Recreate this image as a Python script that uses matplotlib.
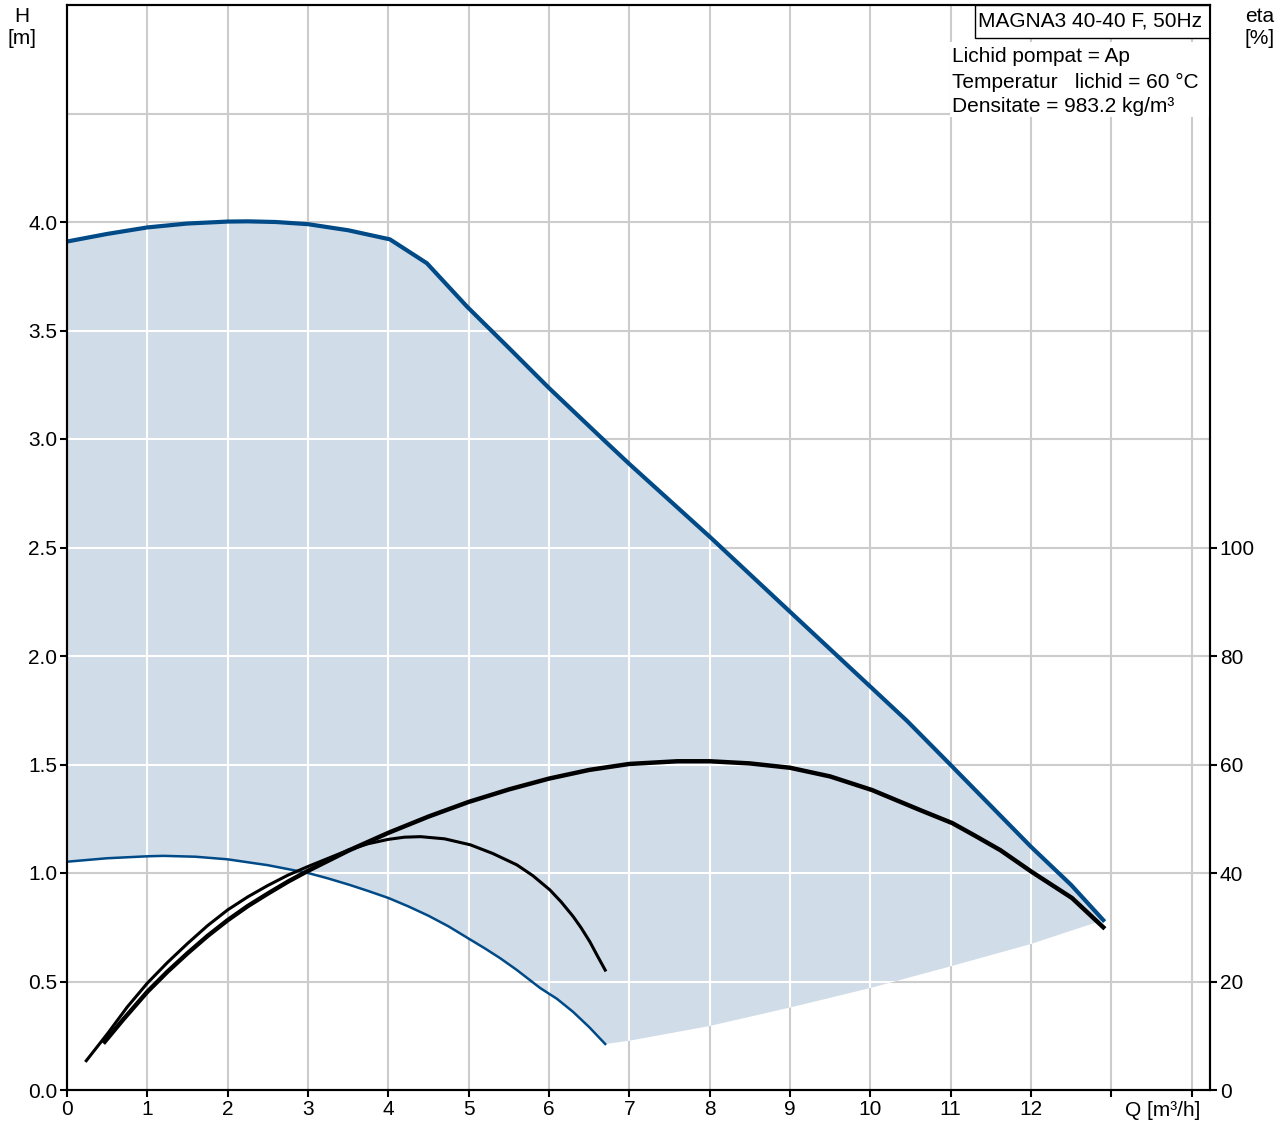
import numpy as np
import matplotlib
matplotlib.use('Agg')
from matplotlib import pyplot
from matplotlib.patches import Polygon, Rectangle

pyplot.rcParams['font.family'] = ['Liberation Sans', 'DejaVu Sans']

# max speed curve, H [m] vs Q [m3/h]
q_max = [0, 0.5, 1.0, 1.5, 2.0, 2.25, 2.6, 3.0, 3.5, 4.02, 4.48, 4.98, 5.5, 6.0, 6.64,
         7.0, 8.0, 9.0, 10.0, 10.46, 11.0, 12.0, 12.5, 12.9]
h_max = [3.91, 3.945, 3.975, 3.993, 4.002, 4.003, 4.0, 3.99, 3.962, 3.92, 3.81, 3.61, 3.42, 3.235, 3.01,
         2.885, 2.55, 2.204, 1.859, 1.70, 1.498, 1.121, 0.945, 0.783]

# min speed curve
q_min = [0, 0.5, 1.0, 1.2, 1.6, 2.0, 2.5, 3.0, 3.25, 3.52, 3.75, 4.0, 4.25, 4.5, 4.75, 4.99, 5.2,
         5.39, 5.6, 5.89, 6.1, 6.3, 6.5, 6.7]
h_min = [1.052, 1.068, 1.077, 1.079, 1.075, 1.063, 1.036, 1.0, 0.975, 0.945, 0.917, 0.885, 0.846, 0.803,
         0.754, 0.70, 0.653, 0.608, 0.553, 0.47, 0.42, 0.36, 0.29, 0.212]

# lower boundary of operating range
q_low = [6.7, 7.0, 8.0, 9.0, 10.0, 11.0, 12.0, 12.9]
h_low = [0.212, 0.227, 0.295, 0.38, 0.47, 0.57, 0.673, 0.783]

# efficiency at max speed [%]
q_eta_max = [0.47, 0.7, 1.0, 1.25, 1.5, 1.75, 2.0, 2.25, 2.5, 2.75, 3.0, 3.5, 4.0, 4.5, 5.0, 5.5, 6.0,
             6.5, 7.0, 7.6, 8.0, 8.5, 9.0, 9.5, 10.02, 10.62, 11.02, 11.3, 11.62, 12.01, 12.51, 12.9]
eta_max = [8.9, 13.0, 18.1, 21.8, 25.2, 28.4, 31.3, 33.9, 36.2, 38.4, 40.4, 44.1, 47.4, 50.4, 53.1, 55.4, 57.4,
           59.0, 60.1, 60.6, 60.6, 60.2, 59.4, 57.8, 55.3, 51.6, 49.2, 46.9, 44.2, 40.2, 35.4, 30.0]

# efficiency at min speed [%]
q_eta_min = [0.24, 0.51, 0.75, 1.0, 1.25, 1.5, 1.75, 2.0, 2.25, 2.5, 2.75, 3.0, 3.25, 3.5, 3.75, 4.0,
             4.2, 4.4, 4.7, 5.02, 5.3, 5.6, 5.8, 6.01, 6.15, 6.3, 6.4, 6.51, 6.6, 6.7]
eta_min = [5.4, 10.5, 15.3, 19.7, 23.5, 27.0, 30.3, 33.2, 35.6, 37.7, 39.6, 41.2, 42.7, 44.2, 45.4, 46.2,
           46.6, 46.7, 46.3, 45.2, 43.6, 41.5, 39.5, 36.9, 34.7, 32.0, 29.9, 27.3, 24.8, 22.1]

x_ticks = list(range(0, 15))
x_labels = [str(i) for i in range(0, 13)] + ['', '']
h_ticks = [0.0, 0.5, 1.0, 1.5, 2.0, 2.5, 3.0, 3.5, 4.0]
h_grid = [0.5, 1.0, 1.5, 2.0, 2.5, 3.0, 3.5, 4.0, 4.5]
eta_ticks = [0, 20, 40, 60, 80, 100]

info_lines = ['Lichid pompat = Ap', 'Temperatur   lichid = 60 °C', 'Densitate = 983.2 kg/m³']

blue = '#004a87'
fill_col = '#d0dce8'
grid_col = '#cccccc'
fs = 15

fig = pyplot.figure(figsize=(12.87, 11.24), dpi=100)
ax = fig.add_axes([67/1287, 34/1124, 1143/1287, 1085/1124])
ax.set_xlim(0, 1143/80.33)
ax.set_ylim(0, 1085/217.)

# gray grid
for x in x_ticks[1:]:
    ax.axvline(x, color=grid_col, linewidth=1.5, zorder=0)
for y in h_grid:
    ax.axhline(y, color=grid_col, linewidth=1.5, zorder=0)

# operating area
poly_x = np.concatenate([q_max, q_low[::-1], q_min[::-1]])
poly_y = np.concatenate([h_max, h_low[::-1], h_min[::-1]])
area = Polygon(np.column_stack([poly_x, poly_y]), closed=True, facecolor=fill_col, edgecolor='none', zorder=1)
ax.add_patch(area)

# white grid inside the area
for x in x_ticks[1:]:
    l = ax.axvline(x, color='white', linewidth=1.5, zorder=2)
    l.set_clip_path(area)
for y in h_grid:
    l = ax.axhline(y, color='white', linewidth=1.5, zorder=2)
    l.set_clip_path(area)

ax.plot(q_max, h_max, color=blue, linewidth=3.0, zorder=4)
ax.plot(q_min, h_min, color=blue, linewidth=1.8, zorder=4)
ax.plot(q_eta_max, np.array(eta_max) / 40., color='black', linewidth=3.2, zorder=5)
ax.plot(q_eta_min, np.array(eta_min) / 40., color='black', linewidth=2.2, zorder=5)

ax.set_xticks(x_ticks)
ax.set_xticklabels(x_labels)
ax.set_yticks(h_ticks)
ax.set_yticklabels(['%.1f' % h for h in h_ticks])
ax.tick_params(axis='both', direction='out', length=5, width=1.5, labelsize=fs, pad=2, colors='black')
for s in ax.spines.values():
    s.set_linewidth(1.5)

ax2 = ax.twinx()
ax2.set_ylim(0, 1085/217. * 40)
ax2.set_yticks(eta_ticks)
ax2.tick_params(axis='y', direction='out', length=5, width=1.5, labelsize=fs, pad=2)
for s in ax2.spines.values():
    s.set_linewidth(1.5)

# info box
ax.add_patch(Rectangle(((950-67)/1143., (1090-117)/1085.), (1210-950)/1143., (117-42)/1085.,
                       transform=ax.transAxes, facecolor='white', edgecolor='none', zorder=6))
ax.add_patch(Rectangle(((975-67)/1143., (1090-38)/1085.), (1210-975)/1143., 33/1085.,
                       transform=ax.transAxes, facecolor='white', edgecolor='black', linewidth=1.0, zorder=7))
fig.text(1090/1287, 1-21/1124, 'MAGNA3 40-40 F, 50Hz', ha='center', va='center', fontsize=fs, zorder=8)
for i, line in enumerate(info_lines):
    fig.text(952/1287, 1-(57+25*i)/1124, line, ha='left', va='center', fontsize=fs, zorder=8)

fig.text(22/1287, 1-17/1124, 'H', ha='center', va='center', fontsize=fs)
fig.text(22/1287, 1-38/1124, '[m]', ha='center', va='center', fontsize=fs)
fig.text(1260/1287, 1-17/1124, 'eta', ha='center', va='center', fontsize=fs)
fig.text(1260/1287, 1-38/1124, '[%]', ha='center', va='center', fontsize=fs)
fig.text(1163/1287, 1-1110/1124, 'Q [m³/h]', ha='center', va='center', fontsize=fs)

pyplot.savefig('out.png', dpi=100)
